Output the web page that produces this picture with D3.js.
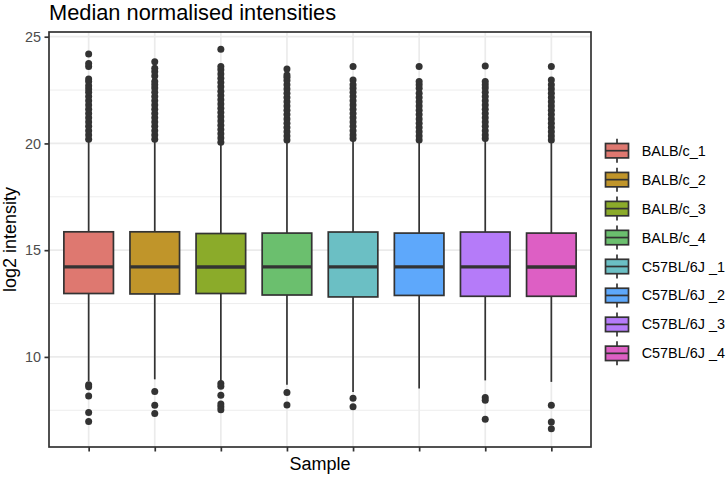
<!DOCTYPE html>
<html lang="en">
<meta charset="UTF-8">
<title>Median normalised intensities</title>
<script src="https://d3js.org/d3.v7.min.js"></script>
<style>
body { margin: 0; background: #fff; }
text { font-family: "Liberation Sans", Arial, Helvetica, sans-serif; }
</style>
<body>
<div id="chart"></div>
<script>
// samples and colours
var samples = ["BALB/c_1", "BALB/c_2", "BALB/c_3", "BALB/c_4",
               "C57BL/6J _1", "C57BL/6J _2", "C57BL/6J _3", "C57BL/6J _4"];
var fills = ["#de7870", "#c0952a", "#8bab2a", "#6bbf6e",
             "#6bbfc4", "#5ea8fb", "#b57bf9", "#dd5fc4"];

// box statistics
var lowerWhisker = [8.86, 8.95, 8.86, 8.70, 8.36, 8.52, 8.90, 8.83];
var q1           = [12.97, 12.95, 12.97, 12.90, 12.81, 12.88, 12.84, 12.84];
var median       = [14.22, 14.22, 14.21, 14.22, 14.22, 14.22, 14.22, 14.21];
var q3           = [15.86, 15.86, 15.78, 15.80, 15.85, 15.80, 15.85, 15.80];
var upperWhisker = [20.15, 20.15, 20.02, 20.12, 20.18, 20.12, 20.18, 20.12];

// outliers
var outliersHigh = [
  [20.2,20.4,20.6,20.8,21.0,21.2,21.4,21.6,21.8,22.0,22.2,22.4,22.55,22.7,22.9,23.02,23.6,23.75,24.19],
  [20.2,20.4,20.6,20.8,21.0,21.2,21.4,21.6,21.8,22.0,22.2,22.4,22.6,22.75,22.9,23.16,23.36,23.52,23.83],
  [20.05,20.25,20.45,20.65,20.85,21.05,21.25,21.45,21.65,21.85,22.05,22.25,22.45,22.65,22.85,23.05,23.25,23.45,23.6,24.41],
  [20.16,20.35,20.55,20.75,20.95,21.15,21.35,21.55,21.75,21.95,22.15,22.35,22.55,22.75,22.95,23.1,23.2,23.49],
  [20.23,20.4,20.6,20.8,21.0,21.2,21.4,21.6,21.8,22.0,22.2,22.4,22.58,22.75,22.97,23.6],
  [20.16,20.35,20.55,20.75,20.95,21.15,21.35,21.55,21.75,21.95,22.15,22.35,22.58,22.75,22.9,23.6],
  [20.23,20.4,20.6,20.8,21.0,21.2,21.4,21.6,21.8,22.0,22.2,22.4,22.6,22.75,22.9,23.63],
  [20.16,20.35,20.55,20.75,20.95,21.15,21.35,21.55,21.75,21.95,22.15,22.35,22.55,22.75,22.97,23.6]
];
var outliersLow = [
  [8.7, 8.6, 8.17, 7.4, 6.98],
  [8.38, 7.73, 7.35],
  [8.75, 8.62, 8.2, 7.8, 7.66, 7.53],
  [8.33, 7.75],
  [8.06, 7.67],
  [],
  [8.1, 7.97, 7.08],
  [7.73, 6.95, 6.64]
];

var yMajor = [10, 15, 20, 25];
var yMinor = [7.5, 12.5, 17.5, 22.5];

// layout
var W = 728, H = 477;
var panel = {left: 49, right: 591, top: 32, bottom: 447};
var ink = "#333333";

var svg = d3.select("#chart").append("svg")
  .attr("width", W).attr("height", H);

var x = d3.scalePoint()
  .domain(samples)
  .range([panel.left, panel.right])
  .padding(0.6);

var y = d3.scaleLinear()
  .domain([5.78, 25.22])
  .range([panel.bottom, panel.top]);

var boxW = x.step() * 0.75;

// grid
var grid = svg.append("g");
grid.selectAll(".minor").data(yMinor).enter().append("line")
  .attr("x1", panel.left).attr("x2", panel.right)
  .attr("y1", function(d){ return y(d); }).attr("y2", function(d){ return y(d); })
  .attr("stroke", "#ebebeb").attr("stroke-width", 0.9);
grid.selectAll(".major").data(yMajor).enter().append("line")
  .attr("x1", panel.left).attr("x2", panel.right)
  .attr("y1", function(d){ return y(d); }).attr("y2", function(d){ return y(d); })
  .attr("stroke", "#ebebeb").attr("stroke-width", 1.7);
grid.selectAll(".vmajor").data(samples).enter().append("line")
  .attr("x1", function(d){ return x(d); }).attr("x2", function(d){ return x(d); })
  .attr("y1", panel.top).attr("y2", panel.bottom)
  .attr("stroke", "#ebebeb").attr("stroke-width", 1.7);

// boxes
var boxes = svg.append("g").selectAll("g").data(samples).enter().append("g");

boxes.append("line")
  .attr("x1", function(d){ return x(d); }).attr("x2", function(d){ return x(d); })
  .attr("y1", function(d, i){ return y(q3[i]); })
  .attr("y2", function(d, i){ return y(upperWhisker[i]); })
  .attr("stroke", ink).attr("stroke-width", 1.7);
boxes.append("line")
  .attr("x1", function(d){ return x(d); }).attr("x2", function(d){ return x(d); })
  .attr("y1", function(d, i){ return y(q1[i]); })
  .attr("y2", function(d, i){ return y(lowerWhisker[i]); })
  .attr("stroke", ink).attr("stroke-width", 1.7);
boxes.append("rect")
  .attr("x", function(d){ return x(d) - boxW / 2; })
  .attr("width", boxW)
  .attr("y", function(d, i){ return y(q3[i]); })
  .attr("height", function(d, i){ return y(q1[i]) - y(q3[i]); })
  .attr("fill", function(d, i){ return fills[i]; })
  .attr("stroke", ink).attr("stroke-width", 1.7);
boxes.append("line")
  .attr("x1", function(d){ return x(d) - boxW / 2; })
  .attr("x2", function(d){ return x(d) + boxW / 2; })
  .attr("y1", function(d, i){ return y(median[i]); })
  .attr("y2", function(d, i){ return y(median[i]); })
  .attr("stroke", ink).attr("stroke-width", 3.4);

boxes.each(function(d, i) {
  var pts = outliersHigh[i].concat(outliersLow[i]);
  d3.select(this).selectAll("circle").data(pts).enter().append("circle")
    .attr("cx", x(d))
    .attr("cy", function(v){ return y(v); })
    .attr("r", 3.5)
    .attr("fill", ink);
});

// panel border
svg.append("rect")
  .attr("x", panel.left).attr("y", panel.top)
  .attr("width", panel.right - panel.left)
  .attr("height", panel.bottom - panel.top)
  .attr("fill", "none").attr("stroke", ink).attr("stroke-width", 1.7);

// axes
var yAxis = svg.append("g")
  .attr("transform", "translate(" + panel.left + ",0)")
  .call(d3.axisLeft(y).tickValues(yMajor).tickSize(4.5).tickPadding(3.5));
var xAxis = svg.append("g")
  .attr("transform", "translate(0," + panel.bottom + ")")
  .call(d3.axisBottom(x).tickSize(4.5).tickFormat(""));
[yAxis, xAxis].forEach(function(a) {
  a.select(".domain").remove();
  a.selectAll(".tick line").attr("stroke", ink).attr("stroke-width", 1.7);
  a.selectAll(".tick text")
    .attr("fill", "#4d4d4d")
    .style("font-size", "14.4px")
    .style("font-family", "'Liberation Sans', Arial, sans-serif");
});

// titles
svg.append("text")
  .attr("x", panel.left).attr("y", 20)
  .style("font-size", "21.8px")
  .text("Median normalised intensities");

svg.append("text")
  .attr("x", (panel.left + panel.right) / 2).attr("y", 470)
  .attr("text-anchor", "middle")
  .style("font-size", "18px")
  .text("Sample");

svg.append("text")
  .attr("transform", "translate(16," + (panel.top + panel.bottom) / 2 + ") rotate(-90)")
  .attr("text-anchor", "middle")
  .style("font-size", "18px")
  .text("log2 intensity");

// legend
var keyX = 617, row0 = 150.7, rowStep = 28.95;
var legend = svg.append("g").selectAll("g").data(samples).enter().append("g")
  .attr("transform", function(d, i){ return "translate(" + keyX + "," + (row0 + i * rowStep) + ")"; });
legend.append("line")
  .attr("x1", 0).attr("x2", 0).attr("y1", -12).attr("y2", 12)
  .attr("stroke", ink).attr("stroke-width", 1.7);
legend.append("rect")
  .attr("x", -11.5).attr("y", -7.2).attr("width", 23).attr("height", 14.4)
  .attr("fill", function(d, i){ return fills[i]; })
  .attr("stroke", ink).attr("stroke-width", 1.7);
legend.append("line")
  .attr("x1", -11.5).attr("x2", 11.5).attr("y1", 0).attr("y2", 0)
  .attr("stroke", ink).attr("stroke-width", 1.7);
legend.append("text")
  .attr("x", 641.7 - keyX).attr("y", 0).attr("dy", "0.35em")
  .style("font-size", "14.4px")
  .text(function(d){ return d; });
</script>
</body>
</html>
